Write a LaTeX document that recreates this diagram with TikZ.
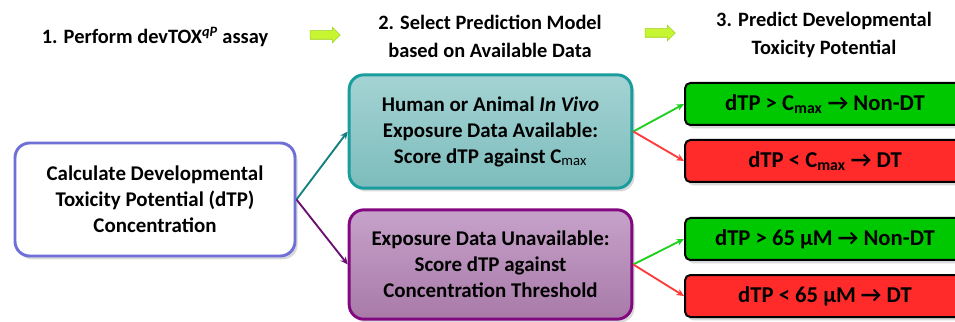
\documentclass[tikz,border=0pt]{standalone}
\usepackage{fontspec}
\setmainfont{Carlito}
\usetikzlibrary{arrows.meta,positioning,shapes.arrows,shadows}
\definecolor{calcline}{HTML}{6F6FD8}
\definecolor{tealline}{HTML}{189C9C}
\definecolor{tealtop}{HTML}{A4D3D3}
\definecolor{tealbot}{HTML}{7DBCBC}
\definecolor{purpline}{HTML}{82087F}
\definecolor{purptop}{HTML}{C6A2CA}
\definecolor{purpbot}{HTML}{A87AA8}
\definecolor{okfill}{HTML}{00C800}
\definecolor{badfill}{HTML}{FF2B2B}
\definecolor{tealar}{HTML}{137F80}
\definecolor{purpar}{HTML}{6A1070}
\definecolor{okar}{HTML}{20D020}
\definecolor{badar}{HTML}{FF3A3A}
\definecolor{lime}{HTML}{C8F532}
\definecolor{limeline}{HTML}{9BD11C}
\tikzset{
  head/.style={align=center,font=\fontsize{15.3}{21}\selectfont\bfseries},
  box/.style={line width=2.2pt,rounded corners=11pt,align=center,inner sep=4pt,
    font=\fontsize{15.7}{19.5}\selectfont\bfseries,
    drop shadow={opacity=0.3,shadow xshift=2pt,shadow yshift=-2.5pt}},
  res/.style={draw=black,line width=1.5pt,rounded corners=4pt,minimum width=210pt,
    minimum height=31.5pt,font=\fontsize{17}{20}\selectfont\bfseries,
    drop shadow={opacity=0.3,shadow xshift=2pt,shadow yshift=-2.5pt}},
  nextar/.style={shape=single arrow,fill=lime,draw=limeline,inner xsep=0pt,inner ysep=3pt,
    minimum height=22.5pt,single arrow head extend=2.6pt},
  ar/.style={-{Stealth[length=2mm,width=1.8mm]},line width=1.4pt}
}
\begin{document}
\begin{tikzpicture}[x=0.75pt,y=0.75pt]
\useasboundingbox (0,0) rectangle (955,321);
% step headings
\node[head] (h1) at (155,284) {1. Perform devTOX\textsuperscript{\textit{qP}} assay};
\node[head] (h2) at (490,285) {2. Select Prediction Model\\based on Available Data};
\node[head] (h3) at (824,286) {3. Predict Developmental\\Toxicity Potential};
\node[nextar] (a1) at (323,286) {};
\node[nextar] (a2) at (658,288) {};
% model boxes
\node[box,draw=calcline,fill=white,minimum width=210pt,minimum height=84.75pt] (calc) at (155,121.5)
  {Calculate Developmental\\Toxicity Potential (dTP)\\Concentration};
\node[box,draw=tealline,top color=tealtop,bottom color=tealbot,minimum width=212pt,minimum height=85pt] (invivo) at (490.5,189.5)
  {Human or Animal \textit{In Vivo}\\Exposure Data Available:\\Score dTP against C\textsubscript{\mdseries max}};
\node[box,draw=purpline,top color=purptop,bottom color=purpbot,minimum width=212pt,minimum height=82pt] (noexp) at (490.5,56.5)
  {Exposure Data Unavailable:\\Score dTP against\\Concentration Threshold};
% predictions
\node[res,fill=okfill] (gt1) at (825,217) {dTP > C\textsubscript{max} → Non-DT};
\node[res,fill=badfill] (lt1) at (825,160) {dTP < C\textsubscript{max} → DT};
\node[res,fill=okfill] (gt2) at (825,82) {dTP > 65 μM → Non-DT};
\node[res,fill=badfill] (lt2) at (825,25) {dTP < 65 μM → DT};
% connectors
\draw[ar,tealar] (calc.east) -- (invivo.west);
\draw[ar,purpar] (calc.east) -- (noexp.west);
\draw[ar,okar] (invivo.east) -- (gt1.west);
\draw[ar,badar] (invivo.east) -- (lt1.west);
\draw[ar,okar] (noexp.east) -- (gt2.west);
\draw[ar,badar] (noexp.east) -- (lt2.west);
\end{tikzpicture}
\end{document}
